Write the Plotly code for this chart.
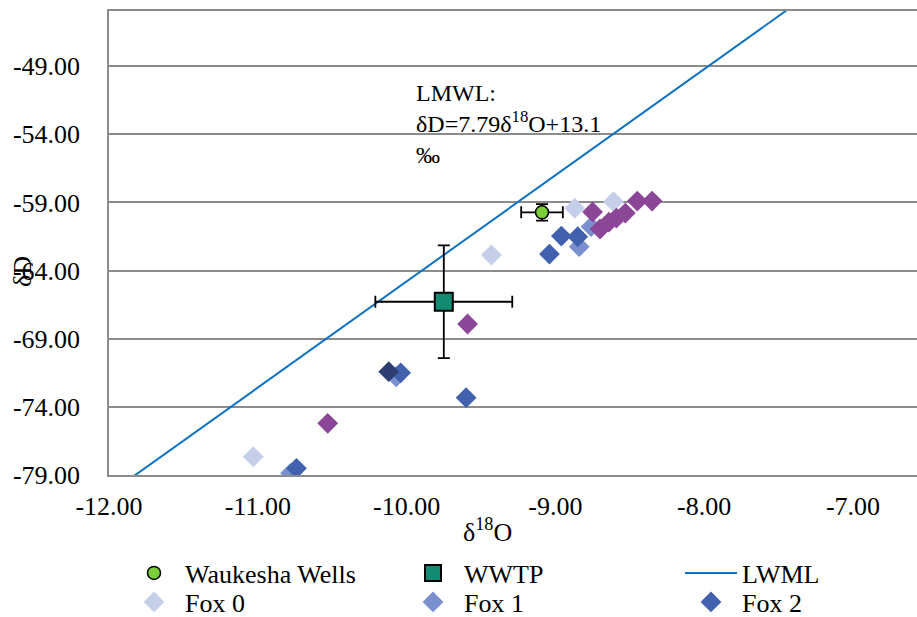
import plotly.graph_objects as go

# ---- data ----
waukesha_x = [-9.09]
waukesha_y = [-59.73]
waukesha_xerr = [0.14]
waukesha_yerr = [0.6]

wwtp_x = [-9.75]
wwtp_y = [-66.29]
wwtp_xerr = [0.46]
wwtp_yerr = [4.13]

lmwl_x = [-12.0, -7.0]
lmwl_y = [-80.38, -41.43]

fox0_x = [-11.03, -9.43, -8.87, -8.61]
fox0_y = [-77.66, -62.86, -59.43, -58.95]
fox1_x = [-10.78, -10.07, -8.84, -8.76]
fox1_y = [-78.88, -71.79, -62.25, -60.78]
fox2_x = [-10.74, -10.04, -9.60, -9.04, -8.96, -8.85]
fox2_y = [-78.51, -71.50, -73.33, -62.79, -61.47, -61.52]
fox3_x = [-10.53, -9.59, -8.75, -8.70, -8.64, -8.59, -8.53, -8.45, -8.35]
fox3_y = [-75.21, -67.92, -59.70, -60.95, -60.44, -60.15, -59.78, -58.90, -58.90]
fox4_x = [-10.12]
fox4_y = [-71.42]

x_ticks = [-12, -11, -10, -9, -8, -7]
y_ticks = [-79, -74, -69, -64, -59, -54, -49]

FONT = "Liberation Serif"
FS = 26
W, H = 917, 617

fig = go.Figure()

def dia(x, y, color, name, legend=None, show=True):
    fig.add_trace(go.Scatter(
        x=x, y=y, mode="markers", name=name,
        marker=dict(symbol="diamond", size=16, color=color, line=dict(width=0)),
        showlegend=show, legend=legend))

fig.add_trace(go.Scatter(
    x=lmwl_x, y=lmwl_y, mode="lines", name="LWML",
    line=dict(color="#0e72c5", width=2), legend="legend3"))

dia(fox0_x, fox0_y, "#c6cfe9", "Fox 0", "legend4")
dia(fox1_x, fox1_y, "#7a8fcd", "Fox 1", "legend5")
dia(fox2_x, fox2_y, "#4160ad", "Fox 2", "legend6")
dia(fox3_x, fox3_y, "#8b4698", "Fox 3", show=False)
dia(fox4_x, fox4_y, "#2e3e72", "Fox 4", show=False)

fig.add_trace(go.Scatter(
    x=wwtp_x, y=wwtp_y, mode="markers", name="WWTP",
    marker=dict(symbol="square", size=18, color="#138a72", line=dict(color="black", width=2)),
    error_x=dict(type="data", array=wwtp_xerr, color="black", thickness=1.8, width=6),
    error_y=dict(type="data", array=wwtp_yerr, color="black", thickness=1.8, width=6),
    legend="legend2"))

fig.add_trace(go.Scatter(
    x=waukesha_x, y=waukesha_y, mode="markers", name="Waukesha Wells",
    marker=dict(symbol="circle", size=13, color="#7ccd3a", line=dict(color="black", width=1.5)),
    error_x=dict(type="data", array=waukesha_xerr, color="black", thickness=1.8, width=6),
    error_y=dict(type="data", array=waukesha_yerr, color="black", thickness=1.8, width=6),
    legend="legend"))

L, R, T, B = 109, 0, 11, 142
pw = W - L - R
ph = H - T - B

def px2paper_x(px):
    return (px - L) / pw

def px2paper_y(py):
    return (H - B - py) / ph

def leg(px_left, py_mid):
    return dict(
        x=px_left / W, y=1 - py_mid / H,
        xref="container", yref="container", xanchor="left", yanchor="middle",
        orientation="v", itemwidth=52, bgcolor="rgba(0,0,0,0)", borderwidth=0,
        font=dict(family=FONT, size=FS, color="black"), tracegroupgap=0)

col_x = [123, 402, 680]
row_mid = [573, 602]

fig.update_layout(
    width=W, height=H,
    margin=dict(l=L, r=R, t=T, b=B, autoexpand=False),
    paper_bgcolor="white", plot_bgcolor="white",
    font=dict(family=FONT, size=FS, color="black"),
    xaxis=dict(
        range=[-12, -12 + pw / 148.8], tickvals=x_ticks,
        ticktext=["%.2f" % v for v in x_ticks],
        showgrid=False, zeroline=False, showline=True, linecolor="#8c8c8c",
        linewidth=1.5, mirror=True, ticks="", ticklabelstandoff=7,
        tickfont=dict(family=FONT, size=FS, color="black")),
    yaxis=dict(
        range=[-79, -79 + ph / 13.63], tickvals=y_ticks,
        ticktext=["%.2f" % v for v in y_ticks],
        showgrid=True, gridcolor="#8c8c8c", gridwidth=1.5, zeroline=False,
        showline=True, linecolor="#8c8c8c", linewidth=1.5, ticks="",
        ticklabelstandoff=22, tickfont=dict(family=FONT, size=FS, color="black")),
    legend=leg(col_x[0], row_mid[0]),
    legend2=leg(col_x[1], row_mid[0]),
    legend3=leg(col_x[2], row_mid[0]),
    legend4=leg(col_x[0], row_mid[1]),
    legend5=leg(col_x[1], row_mid[1]),
    legend6=leg(col_x[2], row_mid[1]),
    annotations=[
        dict(x=-9.95, y=-49.9, xref="x", yref="y", xanchor="left", yanchor="top",
             align="left", showarrow=False,
             text="LMWL:<br>δD=7.79δ<sup>18</sup>O+13.1<br>‰",
             font=dict(family=FONT, size=24, color="black")),
        dict(x=px2paper_x(487), y=px2paper_y(530), xref="paper", yref="paper",
             xanchor="center", yanchor="middle", showarrow=False,
             text="δ<sup>18</sup>O", font=dict(family=FONT, size=FS, color="black")),
        dict(x=px2paper_x(22), y=px2paper_y(272), xref="paper", yref="paper",
             xanchor="center", yanchor="middle", showarrow=False, textangle=-90,
             text="δD", font=dict(family=FONT, size=FS, color="black")),
    ],
)

fig.write_html("out.html", config={"displayModeBar": False},
               post_script="document.body.style.margin='0';document.body.style.overflow='hidden';")
